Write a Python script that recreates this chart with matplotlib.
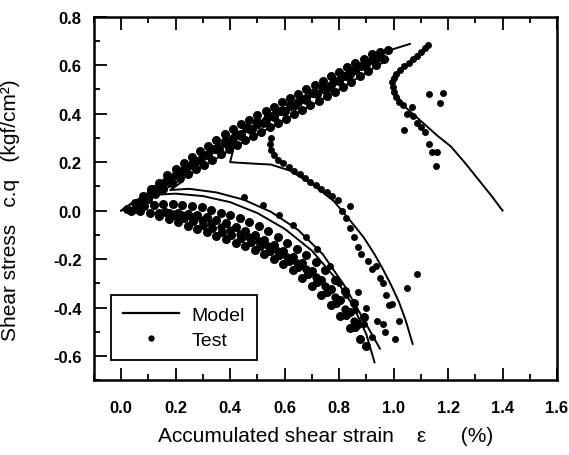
import numpy as np
import matplotlib.pyplot as plt
from matplotlib.lines import Line2D
from matplotlib.ticker import MultipleLocator, FuncFormatter

plt.rcParams['font.family'] = ['Liberation Sans', 'DejaVu Sans']

# ---- model curves (strain %, stress kgf/cm2) ----
model_up_a = [(0.0, 0.0), (0.1, 0.075), (0.2, 0.155), (0.3, 0.23), (0.4, 0.3), (0.5, 0.36),
              (0.6, 0.42), (0.7, 0.48), (0.8, 0.54), (0.9, 0.62), (0.98, 0.66), (1.06, 0.688)]
model_up_b = [(0.02, -0.005), (0.1, 0.045), (0.2, 0.115), (0.3, 0.18), (0.4, 0.25), (0.5, 0.315),
              (0.6, 0.375), (0.7, 0.435), (0.8, 0.5), (0.9, 0.57), (0.98, 0.625)]
model_mid = [(0.41, 0.245), (0.40, 0.20), (0.47, 0.195), (0.55, 0.19), (0.62, 0.165), (0.70, 0.11),
             (0.78, 0.04), (0.84, -0.04), (0.89, -0.11), (0.93, -0.18), (0.96, -0.24), (0.99, -0.305),
             (1.02, -0.378), (1.045, -0.455), (1.07, -0.55)]
model_right = [(1.0, 0.53), (1.003, 0.49), (1.04, 0.43), (1.1, 0.37), (1.16, 0.31), (1.21, 0.265),
               (1.26, 0.2), (1.31, 0.13), (1.36, 0.06), (1.40, 0.0)]
model_low_a = [(0.225, 0.12), (0.18, 0.085), (0.25, 0.09), (0.35, 0.075), (0.45, 0.045), (0.55, -0.005),
               (0.65, -0.08), (0.74, -0.18), (0.82, -0.31), (0.89, -0.45), (0.95, -0.57)]
model_low_b = [(0.0, 0.0), (0.05, 0.04), (0.12, 0.065), (0.2, 0.07), (0.3, 0.06), (0.4, 0.035),
               (0.5, -0.01), (0.6, -0.075), (0.7, -0.165), (0.78, -0.27), (0.85, -0.39), (0.9, -0.51),
               (0.93, -0.626)]

# ---- test points ----
# loading band (upper)
test_up_1 = [(0.02, 0.005), (0.05, 0.03), (0.08, 0.06), (0.11, 0.088), (0.14, 0.116), (0.17, 0.145),
             (0.20, 0.173), (0.23, 0.197), (0.26, 0.221), (0.29, 0.245), (0.32, 0.268), (0.35, 0.292),
             (0.38, 0.315), (0.41, 0.338), (0.44, 0.356), (0.47, 0.375), (0.50, 0.393), (0.53, 0.411),
             (0.56, 0.429), (0.59, 0.447), (0.62, 0.465), (0.65, 0.483), (0.68, 0.501), (0.71, 0.519),
             (0.74, 0.537), (0.77, 0.555), (0.80, 0.573), (0.83, 0.591), (0.86, 0.609), (0.89, 0.627),
             (0.92, 0.645), (0.95, 0.655), (0.98, 0.663)]
test_up_2 = [(0.10, 0.05), (0.14, 0.088), (0.18, 0.126), (0.22, 0.16), (0.26, 0.193), (0.30, 0.225),
             (0.34, 0.256), (0.38, 0.286), (0.42, 0.315), (0.46, 0.34), (0.50, 0.365), (0.54, 0.389),
             (0.58, 0.413), (0.62, 0.437), (0.66, 0.461), (0.70, 0.485), (0.74, 0.509), (0.78, 0.533),
             (0.82, 0.557), (0.86, 0.581), (0.90, 0.605), (0.94, 0.628)]
test_up_3 = [(0.12, 0.09), (0.16, 0.12), (0.20, 0.15), (0.24, 0.178), (0.28, 0.203), (0.32, 0.228),
             (0.36, 0.254), (0.40, 0.283), (0.44, 0.31), (0.48, 0.337), (0.52, 0.362), (0.56, 0.386),
             (0.60, 0.41), (0.64, 0.434), (0.68, 0.458), (0.72, 0.482), (0.76, 0.508), (0.80, 0.535),
             (0.84, 0.565), (0.88, 0.595)]
test_up_4 = [(0.035, 0.0), (0.065, 0.025), (0.095, 0.05), (0.125, 0.07), (0.155, 0.09), (0.185, 0.112),
             (0.215, 0.133), (0.245, 0.152), (0.275, 0.17), (0.305, 0.19), (0.335, 0.21), (0.365, 0.232),
             (0.395, 0.253), (0.425, 0.272), (0.455, 0.29), (0.485, 0.308), (0.515, 0.326), (0.545, 0.344),
             (0.575, 0.362), (0.605, 0.38), (0.635, 0.398), (0.665, 0.416), (0.695, 0.434), (0.725, 0.452),
             (0.755, 0.471), (0.785, 0.49), (0.815, 0.51), (0.845, 0.532), (0.875, 0.555), (0.905, 0.578),
             (0.935, 0.6), (0.965, 0.625)]
test_up_5 = [(0.08, 0.05), (0.11, 0.075), (0.14, 0.10), (0.17, 0.125), (0.20, 0.148), (0.23, 0.17),
             (0.26, 0.19), (0.29, 0.21), (0.32, 0.232), (0.35, 0.255), (0.38, 0.278), (0.41, 0.30),
             (0.44, 0.318), (0.47, 0.336), (0.50, 0.356), (0.53, 0.374), (0.56, 0.393), (0.59, 0.412),
             (0.62, 0.43), (0.65, 0.448), (0.68, 0.466), (0.71, 0.484), (0.74, 0.502), (0.77, 0.52),
             (0.80, 0.54), (0.83, 0.56), (0.86, 0.58), (0.89, 0.60), (0.92, 0.62), (0.95, 0.64)]
# unloading band (lower)
test_low_1 = [(0.05, 0.008), (0.085, 0.02), (0.12, 0.025), (0.155, 0.027), (0.19, 0.028), (0.225, 0.025),
              (0.26, 0.02), (0.295, 0.013), (0.33, 0.003), (0.365, -0.008), (0.40, -0.017), (0.435, -0.032),
              (0.47, -0.048), (0.505, -0.065), (0.54, -0.085), (0.575, -0.108), (0.61, -0.132),
              (0.645, -0.157), (0.68, -0.183), (0.715, -0.213), (0.75, -0.247), (0.785, -0.285),
              (0.82, -0.33), (0.855, -0.38), (0.89, -0.44)]
test_low_2 = [(0.14, -0.01), (0.175, -0.008), (0.21, -0.008), (0.245, -0.012), (0.28, -0.018),
              (0.315, -0.028), (0.35, -0.04), (0.385, -0.053), (0.42, -0.067), (0.455, -0.083),
              (0.49, -0.1), (0.525, -0.12), (0.56, -0.142), (0.595, -0.165), (0.63, -0.19),
              (0.665, -0.218), (0.70, -0.25), (0.735, -0.285), (0.77, -0.325), (0.805, -0.37),
              (0.84, -0.42), (0.87, -0.47)]
test_low_3 = [(0.16, -0.005), (0.195, -0.018), (0.23, -0.03), (0.265, -0.043), (0.30, -0.06),
              (0.335, -0.073), (0.37, -0.087), (0.405, -0.1), (0.44, -0.115), (0.475, -0.13),
              (0.51, -0.148), (0.545, -0.165), (0.58, -0.185), (0.615, -0.207), (0.65, -0.233),
              (0.685, -0.262), (0.72, -0.295), (0.755, -0.335), (0.79, -0.38), (0.825, -0.43),
              (0.86, -0.48)]
test_low_4 = [(0.07, 0.0), (0.105, -0.01), (0.14, -0.022), (0.175, -0.035), (0.21, -0.048),
              (0.245, -0.062), (0.28, -0.076), (0.315, -0.09), (0.35, -0.104), (0.385, -0.118),
              (0.42, -0.132), (0.455, -0.148), (0.49, -0.164), (0.525, -0.181), (0.56, -0.2),
              (0.595, -0.222), (0.63, -0.247), (0.665, -0.277), (0.70, -0.31), (0.735, -0.347),
              (0.77, -0.388), (0.805, -0.435), (0.84, -0.485), (0.875, -0.53), (0.9, -0.56)]
test_low_5 = [(0.19, -0.012), (0.225, -0.02), (0.26, -0.028), (0.295, -0.04), (0.33, -0.053),
              (0.365, -0.066), (0.40, -0.08), (0.435, -0.095), (0.47, -0.11), (0.505, -0.127),
              (0.54, -0.146), (0.575, -0.167), (0.61, -0.19), (0.645, -0.215), (0.68, -0.243),
              (0.715, -0.275), (0.75, -0.312), (0.785, -0.355), (0.82, -0.405), (0.855, -0.455)]
test_low_out = [(0.45, 0.055), (0.52, 0.025), (0.58, -0.02), (0.63, -0.06), (0.68, -0.11), (0.72, -0.16),
                (0.765, -0.23), (0.80, -0.3), (0.827, -0.35), (0.86, -0.41), (0.89, -0.47), (0.92, -0.52)]
# middle branch and right-hand cycle
test_mid = [(0.55, 0.30), (0.545, 0.275), (0.55, 0.25), (0.56, 0.23), (0.575, 0.21), (0.595, 0.195),
            (0.615, 0.18), (0.635, 0.165), (0.655, 0.15), (0.675, 0.135), (0.695, 0.12), (0.715, 0.105),
            (0.735, 0.09), (0.755, 0.075), (0.775, 0.06), (0.795, 0.045), (0.84, 0.02), (0.81, 0.0),
            (0.825, -0.03), (0.84, -0.07), (0.855, -0.11), (0.87, -0.15), (0.88, -0.18), (0.905, -0.21),
            (0.92, -0.24), (0.935, -0.23), (0.95, -0.28), (0.96, -0.30), (0.974, -0.35), (0.985, -0.39),
            (0.996, -0.386), (1.02, -0.456), (0.87, -0.335), (0.90, -0.40), (0.94, -0.456), (0.96, -0.47),
            (0.97, -0.50), (1.007, -0.53), (1.05, -0.32), (1.085, -0.26)]
test_right = [(1.125, 0.685), (1.115, 0.67), (1.10, 0.655), (1.085, 0.64), (1.07, 0.625), (1.055, 0.61),
              (1.04, 0.595), (1.025, 0.58), (1.01, 0.565), (1.0, 0.548), (0.995, 0.53), (0.997, 0.51),
              (1.0, 0.49), (1.01, 0.47), (1.02, 0.45), (1.035, 0.435), (1.066, 0.428), (1.04, 0.333),
              (1.085, 0.36), (1.10, 0.345), (1.114, 0.325), (1.13, 0.275), (1.14, 0.24), (1.16, 0.24),
              (1.155, 0.185), (1.13, 0.48), (1.18, 0.485), (1.17, 0.445), (1.05, 0.40), (1.07, 0.39)]

model_curves = [model_up_a, model_up_b, model_mid, model_right, model_low_a, model_low_b]
# (points, marker size) - the dense bands were printed as heavier overlapping dots
test_sets = [(test_up_1, 6.5), (test_up_2, 6.5), (test_up_3, 6.5), (test_up_4, 6.5), (test_up_5, 6.5),
             (test_low_1, 6.5), (test_low_2, 6.5), (test_low_3, 6.5), (test_low_4, 6.5), (test_low_5, 6),
             (test_low_out, 5), (test_mid, 5), (test_right, 5)]

fig, ax = plt.subplots(figsize=(5.69, 4.56), dpi=100)
fig.subplots_adjust(left=0.165, right=0.979, top=0.961, bottom=0.164)

for c in model_curves:
    c = np.array(c)
    ax.plot(c[:, 0], c[:, 1], color='black', lw=1.4)
for t, ms in test_sets:
    t = np.array(t)
    ax.plot(t[:, 0], t[:, 1], 'o', color='black', ms=ms, mec='none')

ax.set_xlim(-0.1, 1.6)
ax.set_ylim(-0.7, 0.8)
ax.xaxis.set_major_locator(MultipleLocator(0.2))
ax.xaxis.set_minor_locator(MultipleLocator(0.1))
ax.yaxis.set_major_locator(MultipleLocator(0.2))
ax.yaxis.set_minor_locator(MultipleLocator(0.1))
fmt = FuncFormatter(lambda v, p: f'{np.round(v, 1) + 0.0:.1f}')
ax.xaxis.set_major_formatter(fmt)
ax.yaxis.set_major_formatter(fmt)

ax.tick_params(which='both', direction='in', top=True, right=False, width=1.3)
ax.tick_params(which='major', length=9)
ax.tick_params(which='minor', length=4.5)
ax.tick_params(axis='x', pad=14)
ax.tick_params(axis='y', pad=9)
for lab in ax.get_xticklabels() + ax.get_yticklabels():
    lab.set_fontsize(12)
    lab.set_fontweight('bold')
for s in ax.spines.values():
    s.set_linewidth(1.8)

ax.set_xlabel('Accumulated shear strain    ε      (%)', fontsize=15, labelpad=8)
ax.set_ylabel('Shear stress   c.q   (kgf/cm²)', fontsize=15)
ax.yaxis.set_label_coords(-0.16, 0.47)

handles = [Line2D([], [], color='black', lw=1.6),
           Line2D([], [], ls='none', marker='o', color='black', ms=4.5, mec='none')]
leg = ax.legend(handles, ['Model', 'Test'], loc='lower left', bbox_to_anchor=(0.037, 0.055),
                borderaxespad=0, fontsize=14, handlelength=2.9, handletextpad=0.65,
                borderpad=0.6, labelspacing=0.35, fancybox=False, framealpha=1)
leg.get_frame().set_edgecolor('black')
leg.get_frame().set_linewidth(1.3)

plt.savefig('out.png', dpi=100)
plt.close()
